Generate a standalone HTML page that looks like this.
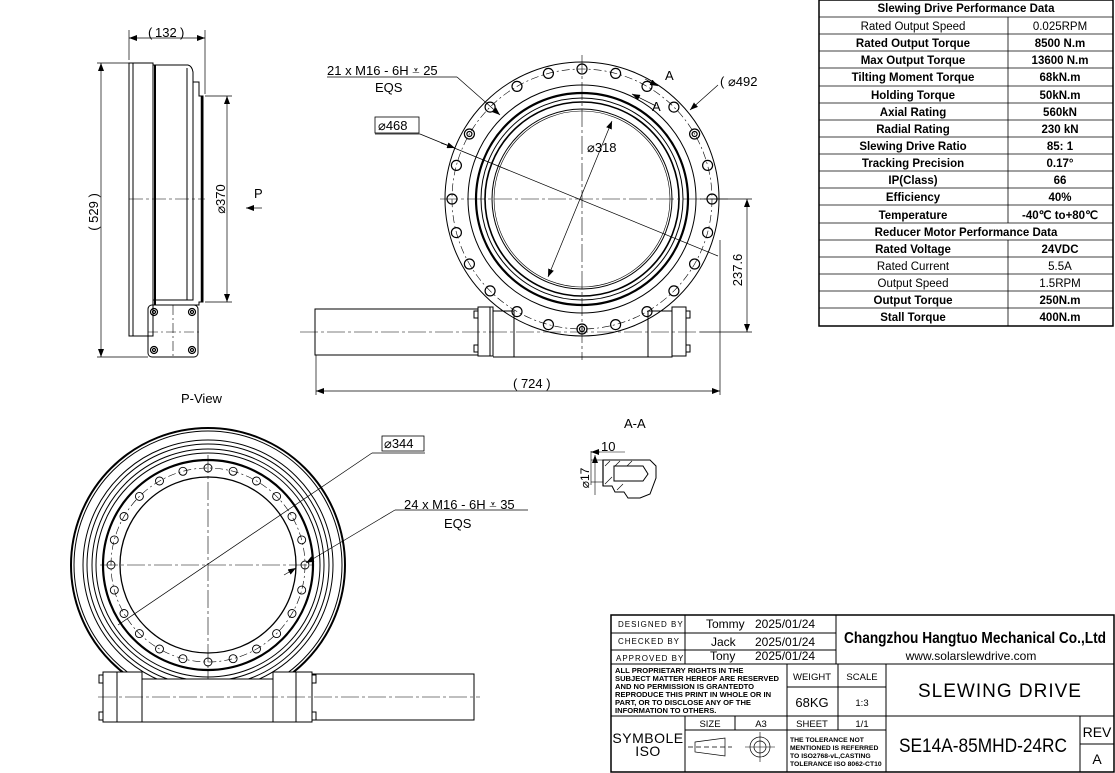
<!DOCTYPE html>
<html><head><meta charset="utf-8"><style>
body{margin:0;background:#fff;}
svg{display:block;font-family:"Liberation Sans",sans-serif;}
</style></head><body>
<svg width="1115" height="773" viewBox="0 0 1115 773" xmlns="http://www.w3.org/2000/svg">
<defs>
<marker id="ar" markerWidth="8" markerHeight="6" refX="8" refY="3" orient="auto-start-reverse" markerUnits="userSpaceOnUse"><path d="M0,0 L8,3 L0,6 z" fill="#000"/></marker>
</defs>
<rect width="1115" height="773" fill="#fff"/>
<g fill="none" stroke="#000" stroke-width="1">
<!-- LEFT VIEW -->
<rect x="129" y="63" width="24" height="273"/>
<line x1="133" y1="63" x2="133" y2="336"/>
<path d="M153,65 H188 Q192,66 193,72 V300 H153"/>
<line x1="155" y1="65" x2="155" y2="305" stroke-width="2"/>
<line x1="187" y1="68" x2="187" y2="300"/>
<path d="M193,82 H199 V96 H203 V302 H199 V305 H193"/>
<line x1="202" y1="96" x2="202" y2="302" stroke-width="2.5"/>
<rect x="148" y="305" width="50" height="52" rx="4"/>
<g stroke-width="1.2">
<circle cx="154" cy="312" r="3.5"/><circle cx="154" cy="312" r="1.5"/>
<circle cx="192" cy="312" r="3.5"/><circle cx="192" cy="312" r="1.5"/>
<circle cx="154" cy="350" r="3.5"/><circle cx="154" cy="350" r="1.5"/>
<circle cx="192" cy="350" r="3.5"/><circle cx="192" cy="350" r="1.5"/>
</g>
<line x1="148" y1="332" x2="200" y2="332" stroke-dasharray="10,3,2,3" stroke-width="0.6"/>
<line x1="173" y1="305" x2="173" y2="357" stroke-dasharray="10,3,2,3" stroke-width="0.6"/>
<line x1="129" y1="199" x2="205" y2="199" stroke-dasharray="14,3,3,3" stroke-width="0.6"/>
<g stroke-width="0.7">
<line x1="129" y1="30" x2="129" y2="60"/><line x1="205" y1="30" x2="205" y2="94"/>
<line x1="129" y1="38" x2="205" y2="38" marker-start="url(#ar)" marker-end="url(#ar)"/>
<line x1="97" y1="63" x2="129" y2="63"/><line x1="97" y1="357" x2="148" y2="357"/>
<line x1="101" y1="63" x2="101" y2="357" marker-start="url(#ar)" marker-end="url(#ar)"/>
<line x1="205" y1="96" x2="232" y2="96"/><line x1="205" y1="302" x2="232" y2="302"/>
<line x1="227" y1="96" x2="227" y2="302" marker-start="url(#ar)" marker-end="url(#ar)"/>
<line x1="262" y1="208" x2="246" y2="208" marker-end="url(#ar)"/>
</g>

<!-- FRONT VIEW -->
<circle cx="582" cy="199" r="137"/>
<circle cx="582" cy="199" r="130" stroke-dasharray="8,3,2,3" stroke-width="0.6"/>
<circle cx="582" cy="199" r="114"/>
<circle cx="582" cy="199" r="106" stroke-width="2.2"/>
<circle cx="582" cy="199" r="101"/>
<circle cx="582" cy="199" r="97" stroke-width="1.6"/>
<circle cx="582" cy="199" r="90"/>
<circle cx="582" cy="199" r="88" stroke-width="0.6"/>
<g stroke-width="1.2">
<circle cx="582" cy="69" r="5"/><circle cx="615.6" cy="73.4" r="5"/><circle cx="647" cy="86.4" r="5"/><circle cx="673.9" cy="107.1" r="5"/><circle cx="694.6" cy="134" r="5"/><circle cx="707.6" cy="165.4" r="5"/><circle cx="712" cy="199" r="5"/><circle cx="707.6" cy="232.6" r="5"/><circle cx="694.6" cy="264" r="5"/><circle cx="673.9" cy="290.9" r="5"/><circle cx="647" cy="311.6" r="5"/><circle cx="615.6" cy="324.6" r="5"/><circle cx="582" cy="329" r="5"/><circle cx="548.4" cy="324.6" r="5"/><circle cx="517" cy="311.6" r="5"/><circle cx="490.1" cy="290.9" r="5"/><circle cx="469.4" cy="264" r="5"/><circle cx="456.4" cy="232.6" r="5"/><circle cx="452" cy="199" r="5"/><circle cx="456.4" cy="165.4" r="5"/><circle cx="469.4" cy="134" r="5"/><circle cx="490.1" cy="107.1" r="5"/><circle cx="517" cy="86.4" r="5"/><circle cx="548.4" cy="73.4" r="5"/>
<circle cx="582" cy="329" r="2.5"/><circle cx="469.4" cy="134" r="2.5"/><circle cx="694.6" cy="134" r="2.5"/>
</g>
<line x1="440" y1="199" x2="730" y2="199" stroke-dasharray="18,3,3,3" stroke-width="0.6"/>
<line x1="582" y1="55" x2="582" y2="360" stroke-dasharray="18,3,3,3" stroke-width="0.6"/>
<rect x="315" y="309" width="163" height="46" fill="#fff"/>
<path d="M478,307 H493 V356 H478 Z" fill="#fff"/>
<rect x="474" y="311" width="4" height="7"/><rect x="474" y="345" width="4" height="7"/>
<line x1="490" y1="307" x2="490" y2="356"/>
<path d="M493,311 H514 V357 H493" />
<path d="M648,311 H672 V357 H648 Z"/>
<path d="M672,307 H686 V356 H672 Z" fill="#fff"/>
<rect x="686" y="311" width="4" height="7"/><rect x="686" y="345" width="4" height="7"/>
<line x1="514" y1="357" x2="648" y2="357"/>
<line x1="300" y1="332" x2="700" y2="332" stroke-dasharray="18,3,3,3" stroke-width="0.6"/>
<g stroke-width="0.7">
<line x1="316" y1="355" x2="316" y2="395"/><line x1="720" y1="240" x2="720" y2="395"/>
<line x1="316" y1="391" x2="720" y2="391" marker-start="url(#ar)" marker-end="url(#ar)"/>
<line x1="700" y1="199" x2="752" y2="199"/><line x1="700" y1="332" x2="752" y2="332"/>
<line x1="747" y1="199" x2="747" y2="332" marker-start="url(#ar)" marker-end="url(#ar)"/>
<line x1="327" y1="77" x2="457" y2="77"/>
<line x1="457" y1="77" x2="500" y2="115" marker-end="url(#ar)"/>
<line x1="375" y1="134" x2="420" y2="134"/>
<line x1="420" y1="134" x2="718" y2="256"/>
<line x1="441" y1="143" x2="455" y2="148" marker-end="url(#ar)"/>
<line x1="612" y1="121" x2="548" y2="277" marker-start="url(#ar)" marker-end="url(#ar)"/>
<line x1="718" y1="85" x2="690" y2="110" marker-end="url(#ar)"/>
<line x1="645" y1="79" x2="658" y2="86" marker-end="url(#ar)"/>
<line x1="632" y1="94" x2="656" y2="106" marker-start="url(#ar)"/>
</g>
<rect x="375" y="117" width="44" height="16" stroke-width="0.8"/>

<!-- BOTTOM VIEW -->
<circle cx="208" cy="565" r="137" stroke-width="2"/>
<circle cx="208" cy="565" r="134"/>
<circle cx="208" cy="565" r="125"/>
<circle cx="208" cy="565" r="121"/>
<circle cx="208" cy="565" r="116"/>
<circle cx="208" cy="565" r="112"/>
<circle cx="208" cy="565" r="105" stroke-width="2.2"/>
<circle cx="208" cy="565" r="97" stroke-dasharray="8,3,2,3" stroke-width="0.6"/>
<circle cx="208" cy="565" r="88" stroke-width="1.3"/>
<g stroke-width="0.9">
<circle cx="208" cy="468" r="4"/><circle cx="233.1" cy="471.3" r="4"/><circle cx="256.5" cy="481" r="4"/><circle cx="276.6" cy="496.4" r="4"/><circle cx="292" cy="516.5" r="4"/><circle cx="301.7" cy="539.9" r="4"/><circle cx="305" cy="565" r="4"/><circle cx="301.7" cy="590.1" r="4"/><circle cx="292" cy="613.5" r="4"/><circle cx="276.6" cy="633.6" r="4"/><circle cx="256.5" cy="649" r="4"/><circle cx="233.1" cy="658.7" r="4"/><circle cx="208" cy="662" r="4"/><circle cx="182.9" cy="658.7" r="4"/><circle cx="159.5" cy="649" r="4"/><circle cx="139.4" cy="633.6" r="4"/><circle cx="124" cy="613.5" r="4"/><circle cx="114.3" cy="590.1" r="4"/><circle cx="111" cy="565" r="4"/><circle cx="114.3" cy="539.9" r="4"/><circle cx="124" cy="516.5" r="4"/><circle cx="139.4" cy="496.4" r="4"/><circle cx="159.5" cy="481" r="4"/><circle cx="182.9" cy="471.3" r="4"/>
</g>
<line x1="100" y1="565" x2="315" y2="565" stroke-dasharray="18,3,3,3" stroke-width="0.6"/>
<line x1="208" y1="455" x2="208" y2="680" stroke-dasharray="18,3,3,3" stroke-width="0.6"/>
<rect x="103" y="672" width="39" height="50" fill="#fff"/>
<line x1="117" y1="672" x2="117" y2="722"/>
<rect x="99" y="675" width="4" height="8"/><rect x="99" y="712" width="4" height="8"/>
<path d="M142,679 H273 V722 H142 Z" fill="#fff"/>
<rect x="273" y="672" width="39" height="50" fill="#fff"/>
<line x1="296" y1="672" x2="296" y2="722"/>
<rect x="312" y="675" width="4" height="8"/><rect x="312" y="712" width="4" height="8"/>
<rect x="312" y="674" width="162" height="46"/>
<line x1="98" y1="697" x2="480" y2="697" stroke-dasharray="18,3,3,3" stroke-width="0.6"/>
<g stroke-width="0.7">
<line x1="425" y1="453" x2="372" y2="453"/>
<line x1="372" y1="453" x2="118" y2="625"/>
<line x1="528" y1="510" x2="395" y2="510"/>
<line x1="395" y1="510" x2="306" y2="563" marker-end="url(#ar)"/>
<line x1="284" y1="575" x2="296" y2="568" marker-end="url(#ar)"/>
</g>
<rect x="382" y="436" width="42" height="15" stroke-width="0.8"/>

<!-- A-A section -->
<path d="M603,460 H650 L656,466 V478 L650,494 L640,498 H628 L624,492 H615 L612,486 H603 Z"/>
<path d="M603,460 V486" stroke-width="1.2"/>
<path d="M614,466 V481 H643 L648,474 L643,466 Z"/>
<g stroke-width="0.6">
<line x1="605" y1="466" x2="610" y2="461"/><line x1="615" y1="466" x2="620" y2="461"/><line x1="627" y1="466" x2="632" y2="461"/><line x1="605" y1="484" x2="612" y2="477"/><line x1="617" y1="490" x2="623" y2="484"/>
<line x1="591" y1="451" x2="591" y2="485"/><line x1="591" y1="452" x2="625" y2="452"/>
<line x1="600" y1="452" x2="591" y2="452" marker-end="url(#ar)"/>
<line x1="591" y1="460" x2="603" y2="460"/><line x1="591" y1="482" x2="603" y2="482"/>
<line x1="595" y1="455" x2="595" y2="495" marker-start="url(#ar)"/>
</g>

<rect x="819" y="0" width="294" height="326" stroke-width="1.5"/>
</g>
<g stroke="#000" stroke-width="0.8">
<line x1="819" y1="17" x2="1113" y2="17"/><line x1="819" y1="34" x2="1113" y2="34"/><line x1="819" y1="51" x2="1113" y2="51"/><line x1="819" y1="68" x2="1113" y2="68"/><line x1="819" y1="86" x2="1113" y2="86"/><line x1="819" y1="103" x2="1113" y2="103"/><line x1="819" y1="120" x2="1113" y2="120"/><line x1="819" y1="137" x2="1113" y2="137"/><line x1="819" y1="154" x2="1113" y2="154"/><line x1="819" y1="171" x2="1113" y2="171"/><line x1="819" y1="188" x2="1113" y2="188"/><line x1="819" y1="205" x2="1113" y2="205"/><line x1="819" y1="223" x2="1113" y2="223"/><line x1="819" y1="240" x2="1113" y2="240"/><line x1="819" y1="257" x2="1113" y2="257"/><line x1="819" y1="274" x2="1113" y2="274"/><line x1="819" y1="291" x2="1113" y2="291"/><line x1="819" y1="308" x2="1113" y2="308"/>
<line x1="1008" y1="17" x2="1008" y2="223"/><line x1="1008" y1="240" x2="1008" y2="326"/>
</g>
<g font-size="11.5" text-anchor="middle" fill="#000">
<text x="966" y="12" font-weight="bold">Slewing Drive Performance Data</text>
<text x="913" y="30">Rated Output Speed</text><text x="1060" y="30">0.025RPM</text>
<text x="913" y="47" font-weight="bold">Rated Output Torque</text><text x="1060" y="47" font-weight="bold">8500 N.m</text>
<text x="913" y="64" font-weight="bold">Max Output Torque</text><text x="1060" y="64" font-weight="bold">13600 N.m</text>
<text x="913" y="81" font-weight="bold">Tilting Moment Torque</text><text x="1060" y="81" font-weight="bold">68kN.m</text>
<text x="913" y="99" font-weight="bold">Holding Torque</text><text x="1060" y="99" font-weight="bold">50kN.m</text>
<text x="913" y="116" font-weight="bold">Axial Rating</text><text x="1060" y="116" font-weight="bold">560kN</text>
<text x="913" y="133" font-weight="bold">Radial Rating</text><text x="1060" y="133" font-weight="bold">230 kN</text>
<text x="913" y="150" font-weight="bold">Slewing Drive Ratio</text><text x="1060" y="150" font-weight="bold">85: 1</text>
<text x="913" y="167" font-weight="bold">Tracking Precision</text><text x="1060" y="167" font-weight="bold">0.17°</text>
<text x="913" y="184" font-weight="bold">IP(Class)</text><text x="1060" y="184" font-weight="bold">66</text>
<text x="913" y="201" font-weight="bold">Efficiency</text><text x="1060" y="201" font-weight="bold">40%</text>
<text x="913" y="219" font-weight="bold">Temperature</text><text x="1060" y="219" font-weight="bold">-40℃ to+80℃</text>
<text x="966" y="236" font-weight="bold">Reducer Motor Performance Data</text>
<text x="913" y="253" font-weight="bold">Rated Voltage</text><text x="1060" y="253" font-weight="bold">24VDC</text>
<text x="913" y="270">Rated Current</text><text x="1060" y="270">5.5A</text>
<text x="913" y="287">Output Speed</text><text x="1060" y="287">1.5RPM</text>
<text x="913" y="304" font-weight="bold">Output Torque</text><text x="1060" y="304" font-weight="bold">250N.m</text>
<text x="913" y="321" font-weight="bold">Stall Torque</text><text x="1060" y="321" font-weight="bold">400N.m</text>
</g>

<g fill="none" stroke="#000" stroke-width="1">
<rect x="611" y="615" width="503" height="157" stroke-width="1.5"/>
<line x1="611" y1="633" x2="836" y2="633"/><line x1="611" y1="650" x2="836" y2="650"/>
<line x1="611" y1="664" x2="1114" y2="664"/><line x1="611" y1="716" x2="1114" y2="716"/>
<line x1="685" y1="615" x2="685" y2="664"/><line x1="836" y1="615" x2="836" y2="664"/>
<line x1="787" y1="664" x2="787" y2="772"/><line x1="838" y1="664" x2="838" y2="730"/>
<line x1="886" y1="664" x2="886" y2="772"/>
<line x1="787" y1="687" x2="886" y2="687"/>
<line x1="685" y1="716" x2="685" y2="772"/><line x1="735" y1="716" x2="735" y2="730"/>
<line x1="685" y1="730" x2="886" y2="730"/>
<line x1="1080" y1="716" x2="1080" y2="772"/><line x1="1080" y1="744" x2="1114" y2="744"/>
<path d="M695,742 L725,738 V756 L695,752 Z" stroke-width="0.7"/>
<line x1="688" y1="747" x2="732" y2="747" stroke-dasharray="5,3" stroke-width="0.7"/>
<circle cx="760" cy="747" r="10" stroke-width="0.7"/><circle cx="760" cy="747" r="6" stroke-width="0.7"/>
<line x1="745" y1="747" x2="775" y2="747" stroke-width="0.6"/><line x1="760" y1="732" x2="760" y2="762" stroke-width="0.6"/>
</g>
<g fill="#000">
<g font-size="8" letter-spacing="1"><text x="618" y="627">DESIGNED BY</text><text x="618" y="644">CHECKED BY</text><text x="616" y="661">APPROVED BY</text></g>
<g font-size="12"><text x="706" y="628">Tommy</text><text x="755" y="628">2025/01/24</text><text x="711" y="646">Jack</text><text x="755" y="646">2025/01/24</text><text x="710" y="660">Tony</text><text x="755" y="660">2025/01/24</text></g>
<text x="975" y="643" font-size="16" font-weight="bold" text-anchor="middle" textLength="262" lengthAdjust="spacingAndGlyphs">Changzhou Hangtuo Mechanical Co.,Ltd</text>
<text x="971" y="660" font-size="12" text-anchor="middle">www.solarslewdrive.com</text>
<g font-size="7.6" font-weight="bold"><text x="615" y="673">ALL PROPRIETARY RIGHTS IN THE</text><text x="615" y="681">SUBJECT MATTER HEREOF ARE RESERVED</text><text x="615" y="689">AND NO PERMISSION IS GRANTEDTO</text><text x="615" y="697">REPRODUCE THIS PRINT IN WHOLE OR IN</text><text x="615" y="705">PART, OR TO DISCLOSE ANY OF THE</text><text x="615" y="713">INFORMATION TO OTHERS.</text></g>
<g font-size="9.5" text-anchor="middle"><text x="812" y="680">WEIGHT</text><text x="862" y="680">SCALE</text><text x="862" y="706">1:3</text><text x="710" y="727">SIZE</text><text x="761" y="727">A3</text><text x="812" y="727">SHEET</text><text x="862" y="727">1/1</text></g>
<text x="812" y="707" font-size="13" text-anchor="middle">68KG</text>
<text x="1000" y="697" font-size="19" text-anchor="middle" letter-spacing="1">SLEWING DRIVE</text>
<text x="983" y="752" font-size="19" text-anchor="middle" textLength="168" lengthAdjust="spacingAndGlyphs">SE14A-85MHD-24RC</text>
<text x="1097" y="737" font-size="14" text-anchor="middle">REV</text>
<text x="1097" y="764" font-size="14" text-anchor="middle">A</text>
<text x="648" y="743" font-size="14" text-anchor="middle" letter-spacing="0.5">SYMBOLE</text>
<text x="648" y="756" font-size="14" text-anchor="middle" letter-spacing="0.5">ISO</text>
<g font-size="6.8" font-weight="bold"><text x="790" y="742">THE TOLERANCE NOT</text><text x="790" y="750">MENTIONED IS REFERRED</text><text x="790" y="758">TO ISO2768-vL,CASTING</text><text x="790" y="766">TOLERANCE ISO 8062-CT10</text></g>
</g>

<g fill="#000" font-size="13">
<text x="148" y="37">(</text><text x="155" y="37">132</text><text x="180" y="37">)</text>
<text transform="translate(98,212) rotate(-90)" text-anchor="middle">( 529 )</text>
<text transform="translate(225,199) rotate(-90)" text-anchor="middle">⌀370</text>
<text x="254" y="198">P</text>
<text x="181" y="403">P-View</text>
<text x="327" y="75">21 x  M16 - 6H ⩡ 25</text>
<text x="375" y="92">EQS</text>
<text x="378" y="130">⌀468</text>
<text x="587" y="152">⌀318</text>
<text x="665" y="80">A</text><text x="652" y="111">A</text>
<text x="720" y="86">( ⌀492</text>
<text transform="translate(742,270) rotate(-90)" text-anchor="middle">237.6</text>
<text x="513" y="388">( 724 )</text>
<text x="384" y="448">⌀344</text>
<text x="404" y="509">24 x  M16 - 6H ⩡ 35</text>
<text x="444" y="528">EQS</text>
<text x="624" y="428">A-A</text>
<text x="601" y="451">10</text>
<text transform="translate(589,478) rotate(-90)" text-anchor="middle" font-size="12">⌀17</text>
</g>
</svg>
</body></html>
